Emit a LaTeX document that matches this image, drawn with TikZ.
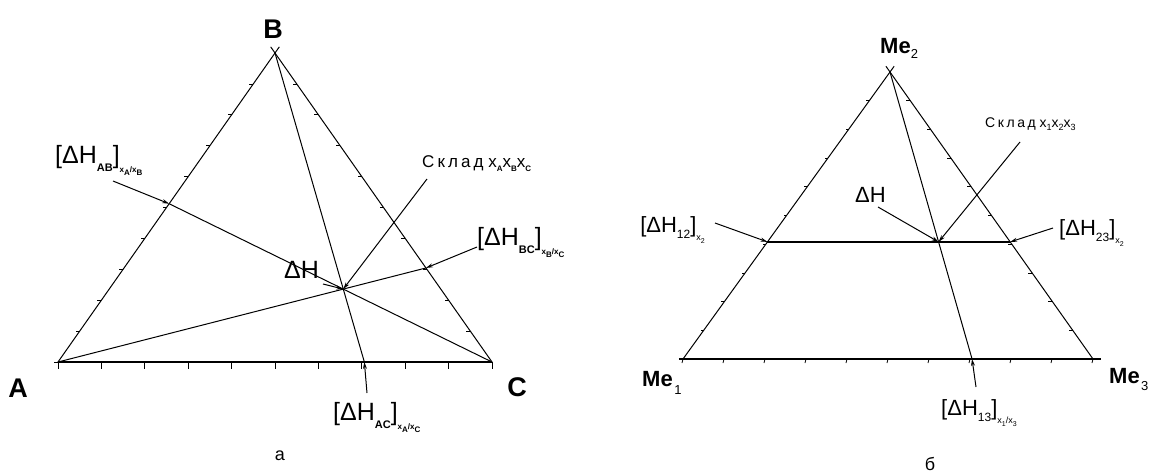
\documentclass[tikz,border=0pt]{standalone}
\usepackage{fontspec}
\setmainfont{Liberation Sans}
\usetikzlibrary{calc,arrows.meta}
\newcommand\bsubL[1]{\raisebox{-8pt}{\fontsize{11}{11}\selectfont\bfseries #1}}
\newcommand\xsubL[2]{\raisebox{-9pt}{\fontsize{8}{8}\selectfont\bfseries x\raisebox{-3pt}{#1}/x\raisebox{-3pt}{#2}}}
\newcommand\nsubR[1]{\raisebox{-6pt}{\fontsize{12}{12}\selectfont #1}}
\newcommand\xsubR[1]{\raisebox{-8pt}{\fontsize{9}{9}\selectfont x\raisebox{-3pt}{\fontsize{7}{7}\selectfont #1}}}
\newcommand\bxs[1]{x\raisebox{-4pt}{\fontsize{8}{8}\selectfont\bfseries #1}}
\newcommand\rxs[1]{x\raisebox{-3pt}{\fontsize{9}{9}\selectfont #1}}
\begin{document}
\begin{tikzpicture}[x=1pt,y=-1pt,
  side/.style={line width=1pt},
  thickbase/.style={line width=1.8pt},
  tk/.style={line width=0.8pt},
  arr/.style={line width=1pt,-{Stealth[length=7pt,width=4pt]}},
  biglab/.style={inner sep=0pt,font=\fontsize{25}{25}\selectfont},
  midlab/.style={inner sep=0pt,font=\fontsize{22}{22}\selectfont},
  vlab/.style={inner sep=0pt,font=\fontsize{27}{27}\selectfont\bfseries},
  melab/.style={inner sep=0pt,font=\fontsize{22}{22}\selectfont\bfseries},
  sklad/.style={inner sep=0pt}]
\useasboundingbox (0,0) rectangle (1149,472);
% ---------- left triangle ----------
\coordinate (A) at (58,362);
\coordinate (B) at (275,53);
\coordinate (C) at (492,362);
\coordinate (P) at (barycentric cs:A=1,B=1.05,C=2.4);
\coordinate (FA) at (barycentric cs:B=1.05,C=2.4);
\coordinate (FC) at (barycentric cs:A=1,B=1.05);
\coordinate (FB) at (barycentric cs:A=1,C=2.4);
\draw[side] (A) -- ($(A)!1.02!(B)$);
\draw[side] (C) -- ($(C)!1.02!(B)$);
\draw[thickbase] (A) -- (C);
\foreach \i in {0,...,10} \draw[tk] ($(A)!\i/10!(C)$) -- ++(0,7);
\foreach \i in {0,...,9} \draw[tk] ($(A)!\i/10!(B)$) -- ++(-4,0);
\foreach \i in {1,...,9} \draw[tk] ($(B)!\i/10!(C)$) -- ++(-4,0);
\draw[side] (A) -- (FA);
\draw[side] (C) -- (FC);
\draw[side] (B) -- (FB);
\node[vlab] (lA) at (18,388) {A};
\node[vlab] (lB) at (273,29) {B};
\node[vlab] (lC) at (517,387) {C};
\node[biglab,anchor=base west] (lAB) at (55,163) {[ΔH\bsubL{AB}]\xsubL{A}{B}};
\node[biglab,anchor=base west] (lBC) at (477,245) {[ΔH\bsubL{BC}]\xsubL{B}{C}};
\node[biglab,anchor=base west] (lAC) at (333,420) {[ΔH\bsubL{AC}]\xsubL{A}{C}};
\node[biglab,anchor=base west] (lDH) at (284,278) {ΔH};
\node[sklad,anchor=base west,font=\fontsize{17}{17}\selectfont] (lSk) at (422,167) {{\addfontfeature{LetterSpace=18}Склад} \bxs{A}\bxs{B}\bxs{C}};
\node[inner sep=0pt,font=\fontsize{18}{18}\selectfont] (la) at (280,456) {а};
\coordinate (sAB) at (113,181);
\coordinate (sBC) at (477,247);
\coordinate (sSk) at (427,179);
\coordinate (sDH) at (323,284);
\coordinate (sAC) at (367,393);
\draw[arr] (sAB) -- (FC);
\draw[arr] (sBC) -- (FA);
\draw[arr] (sSk) -- (P);
\draw[arr] (sDH) -- (P);
\draw[arr] (sAC) -- (FB);
% ---------- right triangle ----------
\coordinate (M1) at (683,359);
\coordinate (M2) at (890,72);
\coordinate (M3) at (1093,359);
\coordinate (L) at ($(M1)!0.408!(M2)$);
\coordinate (R) at ($(M3)!0.408!(M2)$);
\coordinate (F13) at ($(M1)!0.705!(M3)$);
\coordinate (Q) at (intersection of M2--F13 and L--R);
\draw[side] (M1) -- ($(M1)!1.02!(M2)$);
\draw[side] (M3) -- ($(M3)!1.02!(M2)$);
\draw[line width=1.4pt] ($(M1)!-0.01!(M3)$) -- ($(M3)!-0.02!(M1)$);
\foreach \i in {0,...,10} \draw[tk] ($(M1)!\i/10!(M3)$) -- ++(-1,4);
\foreach \i in {0,...,9} \draw[tk] ($(M1)!\i/10!(M2)$) -- ++(-3,0);
\foreach \i in {1,...,10} \draw[tk] ($(M2)!\i/10!(M3)$) -- ++(-4,0);
\draw[line width=1.4pt] (L) -- (R);
\draw[side] (M2) -- (F13);
\node[melab,anchor=east] (lM1) at (673,379) {Me};
\node[inner sep=0pt,font=\fontsize{13}{13}\selectfont] (sM1) at (678,390) {1};
\node[melab,anchor=base west] (lM2) at (880,53) {Me\raisebox{-5pt}{\fontsize{13}{13}\selectfont\mdseries 2}};
\node[melab,anchor=west] (lM3) at (1109,376) {Me};
\node[inner sep=0pt,font=\fontsize{13}{13}\selectfont,anchor=west] (sM3) at (1141,386) {3};
\node[midlab,anchor=base east] (l12) at (705,232) {[ΔH\nsubR{12}]\xsubR{2}};
\node[midlab,anchor=base west] (l23) at (1059,235) {[ΔH\nsubR{23}]\xsubR{2}};
\node[midlab,anchor=base west] (l13) at (941,415) {[ΔH\nsubR{13}]\raisebox{-8pt}{\fontsize{9}{9}\selectfont x\raisebox{-3pt}{\fontsize{7}{7}\selectfont 1}/x\raisebox{-3pt}{\fontsize{7}{7}\selectfont 3}}};
\node[midlab,anchor=base west] (rDH) at (855,202) {ΔH};
\node[sklad,anchor=base west,font=\fontsize{14}{14}\selectfont] (rSk) at (985,127) {{\addfontfeature{LetterSpace=18}Склад} \rxs{1}\rxs{2}\rxs{3}};
\node[inner sep=0pt,font=\fontsize{18}{18}\selectfont] (lb) at (930,464) {б};
\coordinate (s12) at (715,223);
\coordinate (s23) at (1053,228);
\coordinate (sRDH) at (878,207);
\coordinate (sRSk) at (1020,142);
\coordinate (s13) at (976,387);
\draw[arr] (s12) -- (L);
\draw[arr] (s23) -- (R);
\draw[arr] (sRDH) -- (Q);
\draw[arr] (sRSk) -- (Q);
\draw[arr] (s13) -- (F13);
\end{tikzpicture}
\end{document}
